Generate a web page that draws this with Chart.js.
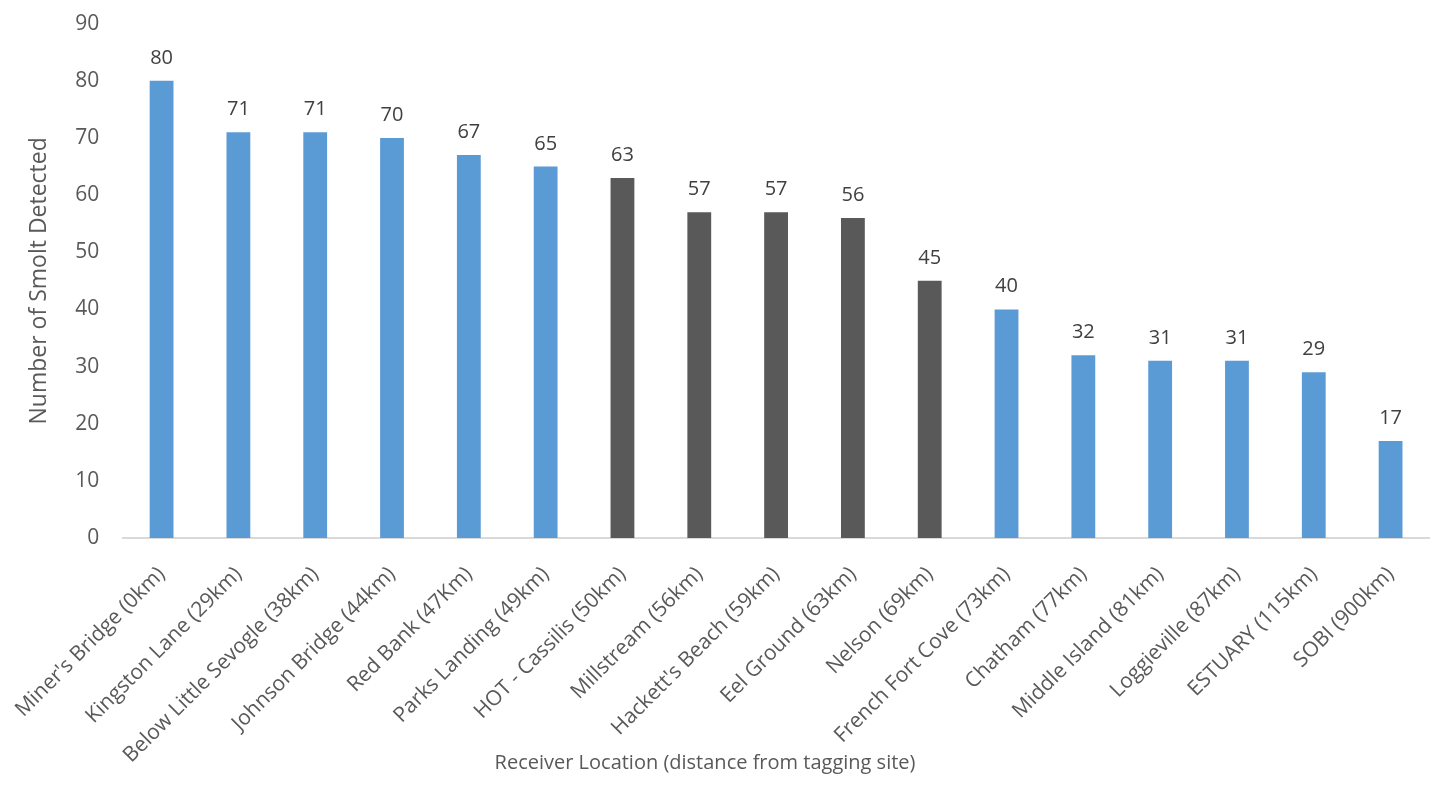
<!DOCTYPE html>
<html>
<head>
<meta charset="utf-8">
<script src="https://cdn.jsdelivr.net/npm/chart.js@4"></script>
<style>
  body { margin: 0; background: #fff; overflow: hidden; }
  #myChart { position: absolute; left: 0; top: -5px; }
</style>
</head>
<body>
<canvas id="myChart" width="1439" height="800"></canvas>
<script>
var locations = [
    "Miner's Bridge (0km)", "Kingston Lane (29km)", "Below Little Sevogle (38km)",
    "Johnson Bridge (44km)", "Red Bank (47Km)", "Parks Landing (49km)",
    "HOT - Cassilis (50km)", "Millstream (56km)", "Hackett's Beach (59km)",
    "Eel Ground (63km)", "Nelson (69km)", "French Fort Cove (73km)",
    "Chatham (77km)", "Middle Island (81km)", "Loggieville (87km)",
    "ESTUARY (115km)", "SOBI (900km)"
];
var smoltCounts = [80, 71, 71, 70, 67, 65, 63, 57, 57, 56, 45, 40, 32, 31, 31, 29, 17];
var darkSites = [6, 7, 8, 9, 10];
var xTitle = 'Receiver Location (distance from tagging site)';

var barColors = smoltCounts.map(function (v, i) {
    return darkSites.indexOf(i) >= 0 ? '#595959' : '#5B9BD5';
});

// value above each bar + the x axis title (Excel puts it a bit left of centre)
var extraText = {
    id: 'extraText',
    afterDatasetsDraw: function (chart) {
        var ctx = chart.ctx;
        var meta = chart.getDatasetMeta(0);
        ctx.save();
        ctx.font = '20px "Open Sans"';
        ctx.fillStyle = '#404040';
        ctx.textAlign = 'center';
        ctx.textBaseline = 'alphabetic';
        meta.data.forEach(function (bar, i) {
            ctx.fillText(smoltCounts[i], bar.x, bar.y - 17);
        });
        ctx.fillStyle = '#595959';
        ctx.fillText(xTitle, 705, 774);
        ctx.restore();
    }
};

Chart.defaults.font.family = '"Open Sans"';
Chart.defaults.color = '#595959';

var ctx = document.getElementById('myChart').getContext('2d');
var myChart = new Chart(ctx, {
    type: 'bar',
    data: {
        labels: locations,
        datasets: [{
            data: smoltCounts,
            backgroundColor: barColors,
            categoryPercentage: 1,
            barPercentage: 0.31
        }]
    },
    options: {
        responsive: false,
        animation: false,
        layout: { padding: { top: 0, right: 10, left: 12, bottom: 11 } },
        plugins: {
            legend: { display: false },
            tooltip: { enabled: false }
        },
        scales: {
            y: {
                min: 0,
                max: 90,
                ticks: { stepSize: 10, font: { size: 21 }, padding: 16 },
                grid: { display: false },
                border: { display: false },
                title: {
                    display: true,
                    text: 'Number of Smolt Detected',
                    font: { size: 23 },
                    padding: { top: 0, bottom: 6 }
                }
            },
            x: {
                ticks: { maxRotation: 45, minRotation: 45, font: { size: 21 }, padding: 16 },
                grid: { display: false },
                border: { color: '#D9D9D9', width: 2 }
            }
        }
    },
    plugins: [extraText]
});
</script>
</body>
</html>
